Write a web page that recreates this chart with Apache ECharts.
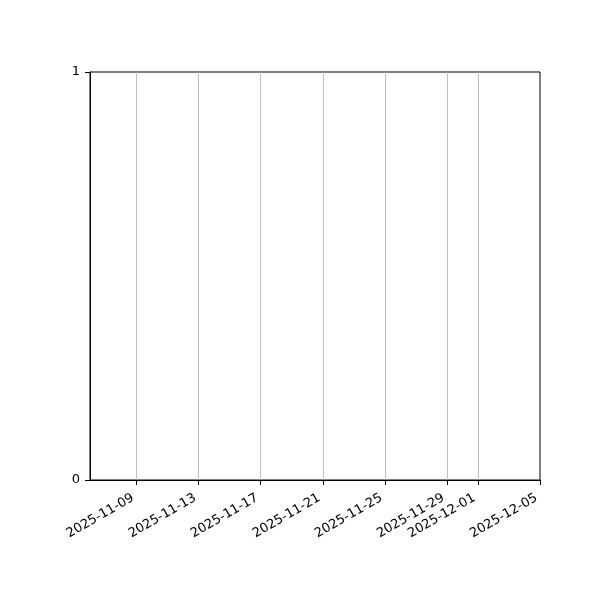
<!DOCTYPE html>
<html>
<head>
<meta charset="utf-8">
<script src="https://cdn.jsdelivr.net/npm/echarts@6/dist/echarts.min.js"></script>
<style>html,body{margin:0;padding:0;background:#fff}#c{width:600px;height:600px}</style>
</head>
<body>
<div id="c"></div>
<script>
const xRange = ['2025-11-06', '2025-12-05'];
const xTickLabels = ['2025-11-09','2025-11-13','2025-11-17','2025-11-21','2025-11-25','2025-11-29','2025-12-01','2025-12-05'];
const yTicks = [0, 1];

const toMs = s => Date.parse(s + 'T00:00:00Z');
const fmt = v => new Date(v).toISOString().slice(0, 10);
const xTickValues = xTickLabels.map(toMs);

const chart = echarts.init(document.getElementById('c'));
chart.setOption({
  animation: false,
  grid: { left: 90, right: 60, top: 72, bottom: 120, show: true, borderColor: '#000', borderWidth: 1, backgroundColor: 'transparent' },
  xAxis: {
    type: 'value',
    min: toMs(xRange[0]),
    max: toMs(xRange[1]),
    axisLine: { show: true, lineStyle: { color: '#000', width: 1 } },
    axisTick: { show: true, inside: false, length: 5, lineStyle: { color: '#000' }, customValues: xTickValues },
    axisLabel: {
      customValues: xTickValues,
      rotate: 30,
      formatter: fmt,
      color: '#000',
      fontFamily: 'DejaVu Sans',
      fontSize: 13,
      margin: 15,
      padding: [0, 4, 0, 0]
    },
    splitLine: { show: false }
  },
  yAxis: {
    type: 'value',
    min: yTicks[0],
    max: yTicks[yTicks.length - 1],
    interval: 1,
    axisLine: { show: true, lineStyle: { color: '#000', width: 1 } },
    axisTick: { show: true, inside: false, length: 5, lineStyle: { color: '#000' } },
    axisLabel: { color: '#000', fontFamily: 'DejaVu Sans', fontSize: 13, margin: 10 },
    splitLine: { show: false }
  },
  series: [{
    type: 'line',
    data: [],
    markLine: {
      silent: true,
      symbol: 'none',
      label: { show: false },
      lineStyle: { color: '#b0b0b0', width: 0.8, type: 'solid' },
      data: xTickValues.slice(0, -1).map(v => ({ xAxis: v }))
    }
  }]
});
</script>
</body>
</html>
